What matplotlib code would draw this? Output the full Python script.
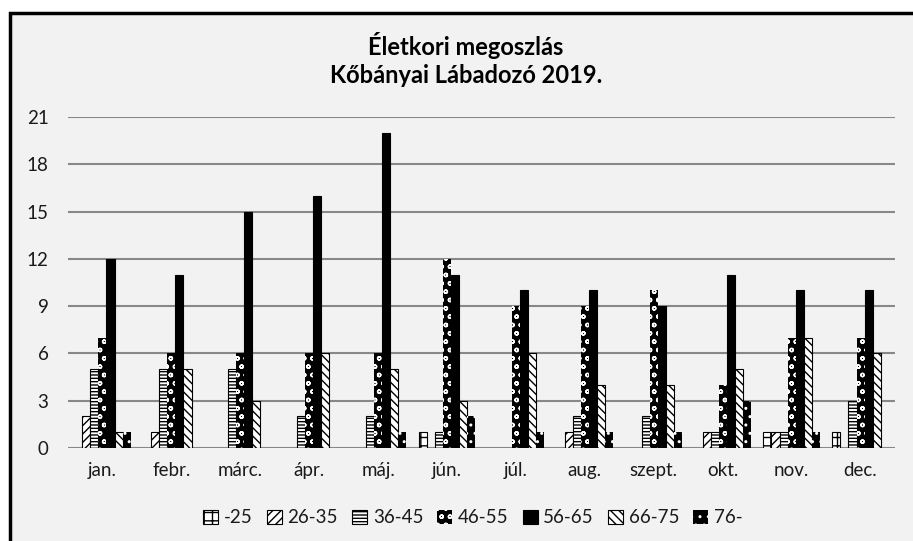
import numpy as np
import matplotlib.pyplot as plt
from matplotlib.patches import Rectangle, Patch

months = ['jan.', 'febr.', 'márc.', 'ápr.', 'máj.', 'jún.', 'júl.',
          'aug.', 'szept.', 'okt.', 'nov.', 'dec.']
age_groups = ['-25', '26-35', '36-45', '46-55', '56-65', '66-75', '76-']

v_25 = [0, 0, 0, 0, 0, 1, 0, 0, 0, 0, 1, 1]
v_26_35 = [2, 1, 0, 0, 0, 0, 0, 1, 0, 1, 1, 0]
v_36_45 = [5, 5, 5, 2, 2, 1, 0, 2, 2, 1, 1, 3]
v_46_55 = [7, 6, 6, 6, 6, 12, 9, 9, 10, 4, 7, 7]
v_56_65 = [12, 11, 15, 16, 20, 11, 10, 10, 9, 11, 10, 10]
v_66_75 = [1, 5, 3, 6, 5, 3, 6, 4, 4, 5, 7, 6]
v_76 = [1, 0, 0, 0, 1, 2, 1, 1, 1, 3, 1, 0]

yticks = [0, 3, 6, 9, 12, 15, 18, 21]

series = [v_25, v_26_35, v_36_45, v_46_55, v_56_65, v_66_75, v_76]

# (facecolor, hatch colour, hatch)
styles = [
    ('white', 'black', '++'),
    ('white', 'black', '////'),
    ('white', 'black', '-----'),
    ('black', 'white', 'oo'),
    ('black', 'black', None),
    ('white', 'black', '\\\\\\\\'),
    ('black', 'white', '..'),
]

plt.rcParams['font.family'] = ['Lato', 'DejaVu Sans']
plt.rcParams['hatch.linewidth'] = 1.0

fig = plt.figure(figsize=(9.13, 5.41), dpi=100)
fig.patch.set_facecolor('white')
bg = '#f2f2f2'
frame = Rectangle((10 / 913, -0.05), 1.0, (541 - 13) / 541 + 0.05,
                  transform=fig.transFigure, facecolor=bg,
                  edgecolor='black', linewidth=2.5, zorder=-5)
fig.patches.append(frame)

ax = fig.add_axes([68 / 913, (541 - 448) / 541, (895 - 68) / 913, (448 - 117) / 541])
ax.patch.set_visible(False)

x = np.arange(len(months))
w = 0.117
handles = []
for i, (vals, name, (fc, hc, hatch)) in enumerate(zip(series, age_groups, styles)):
    pos = x + (i - 3) * w
    if fc == 'black' and hatch:
        kw = dict(facecolor=fc, edgecolor=hc, hatch=hatch, linewidth=0)
    else:
        kw = dict(facecolor=fc, edgecolor='black', hatch=hatch, linewidth=0.8)
    b = ax.bar(pos, vals, w, zorder=3, **kw)
    # hide zero-height bars
    for r, v in zip(b, vals):
        if v == 0:
            r.set_visible(False)
    handles.append(Patch(**kw))

ax.set_ylim(0, 21)
ax.set_xlim(-0.5, len(months) - 0.5)
ax.set_yticks(yticks)
ax.set_xticks(x)
ax.set_xticklabels(months)
ax.grid(axis='y', color='#888888', linewidth=1.5, zorder=0)
ax.set_axisbelow(True)
for s in ['top', 'right', 'left', 'bottom']:
    ax.spines[s].set_visible(False)
ax.tick_params(axis='both', length=0, labelsize=13.5, colors='#1a1a1a')
ax.tick_params(axis='y', pad=14)
ax.tick_params(axis='x', pad=10)

fig.text(0.51, 0.89, 'Életkori megoszlás\nKőbányai Lábadozó 2019.',
         ha='center', va='center', fontsize=17, fontweight='bold',
         linespacing=1.25, color='#000000')

leg = fig.legend(handles, age_groups, loc='center', bbox_to_anchor=(0.518, 0.043),
                 ncol=7, frameon=False, fontsize=13.5, handlelength=0.8,
                 handleheight=0.8, handletextpad=0.3, columnspacing=0.75)
for t in leg.get_texts():
    t.set_color('#1a1a1a')

fig.savefig('out.png', dpi=100, facecolor='white')
